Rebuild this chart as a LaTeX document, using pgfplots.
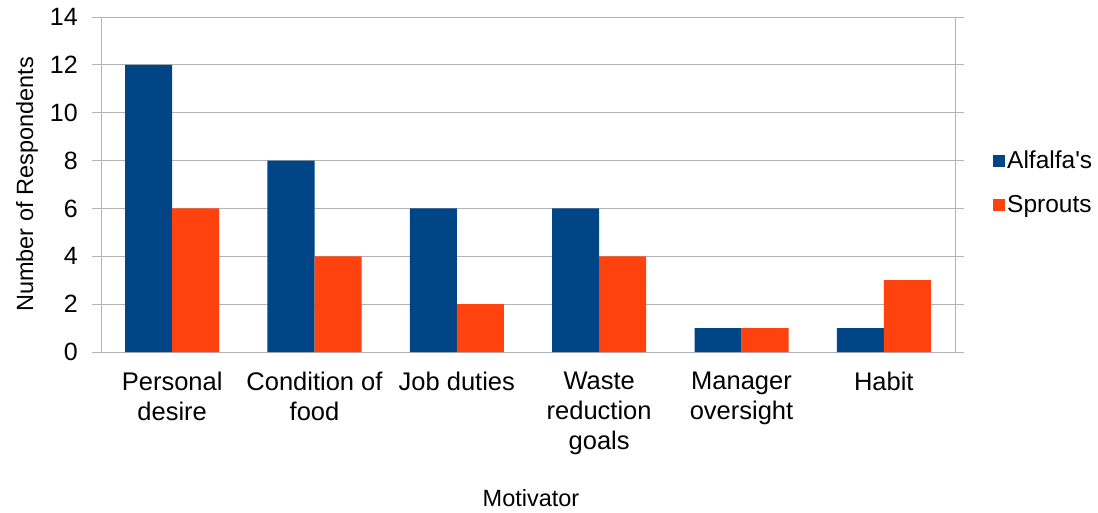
\documentclass[border=0pt]{standalone}
\usepackage{fontspec}
\setmainfont{Liberation Sans}
\usepackage{pgfplots}
\pgfplotsset{compat=1.18}
\definecolor{cblue}{HTML}{004586}
\definecolor{corange}{HTML}{FF420E}
\definecolor{cgrid}{HTML}{B3B3B3}
\begin{document}
\fontsize{24}{30}\selectfont
\begin{tikzpicture}[x=1pt,y=1pt]
\useasboundingbox (0,0) rectangle (1098,512);
\begin{axis}[
  at={(101pt,160pt)}, anchor=south west,
  scale only axis, width=854pt, height=335pt,
  ybar=0pt, bar width=47pt,
  xmin=-0.5, xmax=5.5, ymin=0, ymax=14,
  ytick={0,2,...,14},
  xtick={0,...,5},
  xticklabels={Personal\\desire, Condition of\\food, Job duties, Waste\\reduction\\goals, Manager\\oversight, Habit},
  xticklabel style={align=center, anchor=north, yshift=-3pt, font=\fontsize{25.5}{30}\selectfont},
  yticklabel style={xshift=-6pt, font=\fontsize{25}{30}\selectfont},
  /pgf/number format/assume math mode=true,
  x tick style={draw=none},
  y tick style={draw=cgrid, line width=0.8pt},
  major tick length=9pt,
  tick align=outside,
  extra x ticks={-0.5,0.5,...,5.5},
  extra x tick labels={},
  extra x tick style={grid=none, major tick length=8pt, tick style={draw=cgrid, line width=0.8pt}},
  ymajorgrids,
  grid style={draw=cgrid, line width=0.8pt},
  axis line style={draw=cgrid, line width=0.8pt},
  xlabel={Motivator},
  ylabel={Number of Respondents},
  xlabel style={at={(axis description cs:0.5,-0.4597)}, anchor=base, xshift=3pt, font=\fontsize{23.5}{28}\selectfont},
  ylabel style={at={(axis description cs:-0.0796,0.5)}, anchor=base, font=\fontsize{23.5}{28}\selectfont},
  legend style={at={(rel axis cs:1.0445,0.504)}, anchor=west, draw=none, fill=none, row sep=19pt, inner sep=0pt, font=\fontsize{24.5}{30}\selectfont, nodes={inner sep=2pt}},
  legend cell align=left,
  legend image code/.code={\fill[#1,draw=none] (0pt,-6pt) rectangle (12pt,6pt);},
  legend style={/tikz/every even column/.append style={column sep=3pt}},
]
\addplot[fill=cblue, draw=none] coordinates {(0,12) (1,8) (2,6) (3,6) (4,1) (5,1)};
\addplot[fill=corange, draw=none] coordinates {(0,6) (1,4) (2,2) (3,4) (4,1) (5,3)};
\legend{Alfalfa\textquotesingle s, Sprouts}
\end{axis}
\end{tikzpicture}
\end{document}
